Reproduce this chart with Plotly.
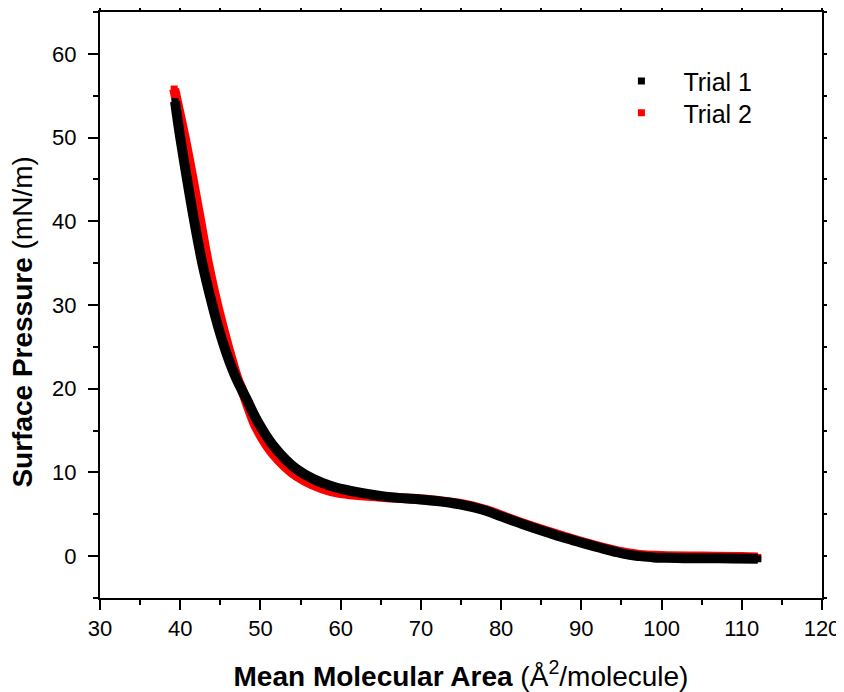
import plotly.graph_objects as go

# Trial 1 (black)
trial1_area = [39.35, 40.0, 40.85, 41.75, 42.75, 44.0, 44.85, 45.85, 47.04, 48.3,
               49.53, 51.6, 54.5, 58.7, 64.9, 70.7, 73.5, 75.75, 78.2, 80.0, 82.0, 84.0,
               86.1, 88.2, 90.2, 92.3, 94.4, 96.0, 97.3, 99.0, 100.5, 102.7, 105.0, 108.9, 112.0]
trial1_pressure = [54.3, 50.0, 45.0, 40.0, 35.0, 30.0, 27.0, 24.0, 21.1, 18.7,
                   16.3, 13.2, 10.4, 8.4, 7.2, 6.7, 6.4, 6.0, 5.4, 4.75, 4.06, 3.4,
                   2.74, 2.1, 1.55, 1.0, 0.48, 0.15, 0.0, -0.15, -0.2, -0.24, -0.25, -0.28, -0.32]

# Trial 2 (red)
trial2_area = [39.25, 40.55, 41.55, 42.5, 43.45, 44.6, 45.4, 46.25, 47.2, 47.7, 48.6,
               49.53, 51.6, 54.5, 58.7, 64.9, 70.7, 75.75, 78.2, 82.0, 86.1, 90.2, 94.4, 97.3,
               100.0, 105.0, 110.0, 112.0]
trial2_pressure = [55.8, 50.0, 45.0, 40.0, 35.0, 30.0, 27.0, 24.0, 21.0, 19.9, 17.5,
                   15.3, 12.2, 9.6, 7.8, 7.1, 6.75, 6.1, 5.48, 4.15, 2.85, 1.65, 0.6, 0.15,
                   0.02, -0.05, -0.1, -0.15]

series_names = ["Trial 1", "Trial 2"]
series_colors = ["#000000", "#ff0000"]

x_range = [30, 120]
y_range = [-5, 65]

FONT = "Arial, 'Liberation Sans', sans-serif"

fig = go.Figure()
# red on the primary axes (underneath)
fig.add_trace(go.Scatter(x=trial2_area, y=trial2_pressure, mode="lines",
                         line=dict(color=series_colors[1], width=10, shape="spline", smoothing=1.0),
                         showlegend=False, hoverinfo="skip"))
fig.add_trace(go.Scatter(x=trial2_area, y=trial2_pressure, mode="markers", name=series_names[1],
                         marker=dict(symbol="square", size=7, color=series_colors[1]),
                         legend="legend2"))
# black on the overlaid axes (drawn on top)
fig.add_trace(go.Scatter(x=trial1_area, y=trial1_pressure, mode="lines", xaxis="x2", yaxis="y2",
                         line=dict(color=series_colors[0], width=10, shape="spline", smoothing=1.0),
                         showlegend=False, hoverinfo="skip"))
fig.add_trace(go.Scatter(x=trial1_area, y=trial1_pressure, mode="markers", name=series_names[0],
                         xaxis="x2", yaxis="y2",
                         marker=dict(symbol="square", size=7, color=series_colors[0]),
                         legend="legend"))

tickfont = dict(family=FONT, size=22, color="black")
main_common = dict(showline=True, linewidth=2, linecolor="black", mirror=False,
                   ticks="outside", ticklen=10, tickwidth=2, tickcolor="black",
                   showgrid=False, zeroline=False, automargin=False, tickfont=tickfont)
minor_main = dict(ticks="outside", ticklen=5, tickwidth=2, tickcolor="black", showgrid=False)
mirror_common = dict(showline=True, linewidth=2, linecolor="black",
                     ticks="outside", ticklen=3, tickwidth=2, tickcolor="black",
                     showgrid=False, zeroline=False, showticklabels=False, automargin=False)
minor_mirror = dict(ticks="outside", ticklen=3, tickwidth=2, tickcolor="black", showgrid=False)

legend_font = dict(family=FONT, size=25, color="black")

fig.update_layout(
    width=836, height=684,
    margin=dict(l=92, r=22, t=4, b=94),
    plot_bgcolor="white", paper_bgcolor="white",
    font=dict(family=FONT, color="black"),
    xaxis=dict(range=x_range, tick0=30, dtick=10, minor=dict(dtick=5, **minor_main),
               title=dict(text="<b>Mean Molecular Area</b> (Å<sup>2</sup>/molecule)",
                          font=dict(family=FONT, size=28, color="black"), standoff=27),
               **main_common),
    yaxis=dict(range=y_range, tick0=0, dtick=10, minor=dict(dtick=5, **minor_main),
               ticklabelstandoff=7, **main_common),
    xaxis2=dict(range=x_range, overlaying="x", side="top", anchor="y2", tick0=30, dtick=5,
                minor=dict(dtick=5, **minor_mirror), **mirror_common),
    yaxis2=dict(range=y_range, overlaying="y", side="right", anchor="x2", tick0=0, dtick=5,
                minor=dict(dtick=5, **minor_mirror), **mirror_common),
    legend=dict(x=0.6917, y=0.882, xanchor="left", yanchor="middle", bgcolor="rgba(0,0,0,0)",
                font=legend_font, itemwidth=74),
    legend2=dict(x=0.6917, y=0.8276, xanchor="left", yanchor="middle", bgcolor="rgba(0,0,0,0)",
                 font=legend_font, itemwidth=74),
    annotations=[dict(text="<b>Surface Pressure</b> (mN/m)", textangle=-90,
                      xref="paper", yref="paper", x=-0.1066, y=0.47,
                      xanchor="center", yanchor="middle", showarrow=False,
                      font=dict(family=FONT, size=28, color="black"))],
)

fig.write_html("out.html")
